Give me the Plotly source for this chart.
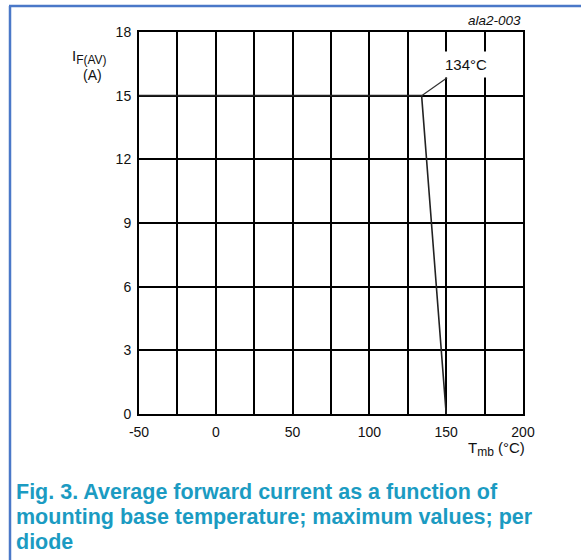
import plotly.graph_objects as go

# Derating curve: maximum average forward current vs mounting base temperature
temp_c = [-50, 134, 150]
current_a = [15, 15, 0]

x_ticks = [-50, 0, 50, 100, 150, 200]
y_ticks = [0, 3, 6, 9, 12, 15, 18]

knee_temp = 134
knee_label = "134°C"

W, H = 581, 560
L, R, T, B = 139, 58, 32, 146
PW, PH = W - L - R, H - T - B


def px(x):
    return (x - L) / PW


def py(y):
    return 1 - (y - T) / PH


FONT = "Liberation Sans, Arial, sans-serif"
INK = "#111111"
CAPTION = "#1b9bc2"

fig = go.Figure()
fig.add_trace(go.Scatter(
    x=temp_c, y=current_a, mode="lines",
    line=dict(color="#222222", width=1.6),
    showlegend=False, hoverinfo="skip",
))

axis_common = dict(
    showgrid=True, gridcolor="black", gridwidth=2,
    showline=True, linecolor="black", linewidth=2, mirror=True,
    zeroline=False, ticks="", tickfont=dict(family=FONT, size=14, color=INK),
)
# labelled ticks every 50 °C, with an extra grid line every 25 °C
fig.update_xaxes(range=[-50, 200], tickvals=x_ticks,
                 ticktext=[str(v) for v in x_ticks], ticklabelstandoff=4,
                 minor=dict(tick0=-50, dtick=25, showgrid=True,
                            gridcolor="black", gridwidth=2, ticks=""),
                 **axis_common)
fig.update_yaxes(range=[0, 18], tickvals=y_ticks, ticklabelstandoff=3, **axis_common)


def note(x, y, text, size=14, xanchor="center", italic=False):
    if italic:
        text = "<i>" + text + "</i>"
    return dict(x=px(x), y=py(y), xref="paper", yref="paper", showarrow=False,
                xanchor=xanchor, yanchor="middle", text=text,
                font=dict(family=FONT, size=size, color=INK))


annotations = [
    # knee label with leader line
    dict(x=knee_temp, y=15, xref="x", yref="y", text=knee_label,
         showarrow=True, arrowhead=0, arrowwidth=1.2, arrowcolor="#333333",
         ax=44, ay=-31, bgcolor="white", borderpad=4,
         font=dict(family=FONT, size=15, color=INK)),
    # y axis title
    note(89, 57, "I<sub><span style='font-size:12px'>F(AV)</span></sub>", size=15),
    note(92, 75, "(A)", size=14),
    # x axis title
    note(527, 449, "T<sub><span style='font-size:12px'>mb</span></sub> (°C)", size=15,
         xanchor="right"),
    # figure id
    note(523, 21, "ala2-003", size=13.5, xanchor="right", italic=True),
]

caption_lines = [
    "Fig. 3. Average forward current as a function of",
    "mounting base temperature; maximum values; per",
    "diode",
]
for i, line in enumerate(caption_lines):
    annotations.append(dict(
        x=px(14), y=py(492 + 25 * i), xref="paper", yref="paper",
        xanchor="left", yanchor="middle", showarrow=False,
        text="<b>" + line + "</b>",
        font=dict(family=FONT, size=21.5, color=CAPTION),
    ))

# page frame (left and top rules)
shapes = [
    dict(type="line", xref="paper", yref="paper", x0=px(10), x1=px(10),
         y0=py(6), y1=py(H + 5), line=dict(color="#4a78c8", width=2.5)),
    dict(type="line", xref="paper", yref="paper", x0=px(9), x1=px(W + 5),
         y0=py(6), y1=py(6), line=dict(color="#4a78c8", width=2.5)),
]

fig.update_layout(
    width=W, height=H,
    margin=dict(l=L, r=R, t=T, b=B),
    paper_bgcolor="white", plot_bgcolor="white",
    annotations=annotations, shapes=shapes,
)

fig.write_html("out.html")
